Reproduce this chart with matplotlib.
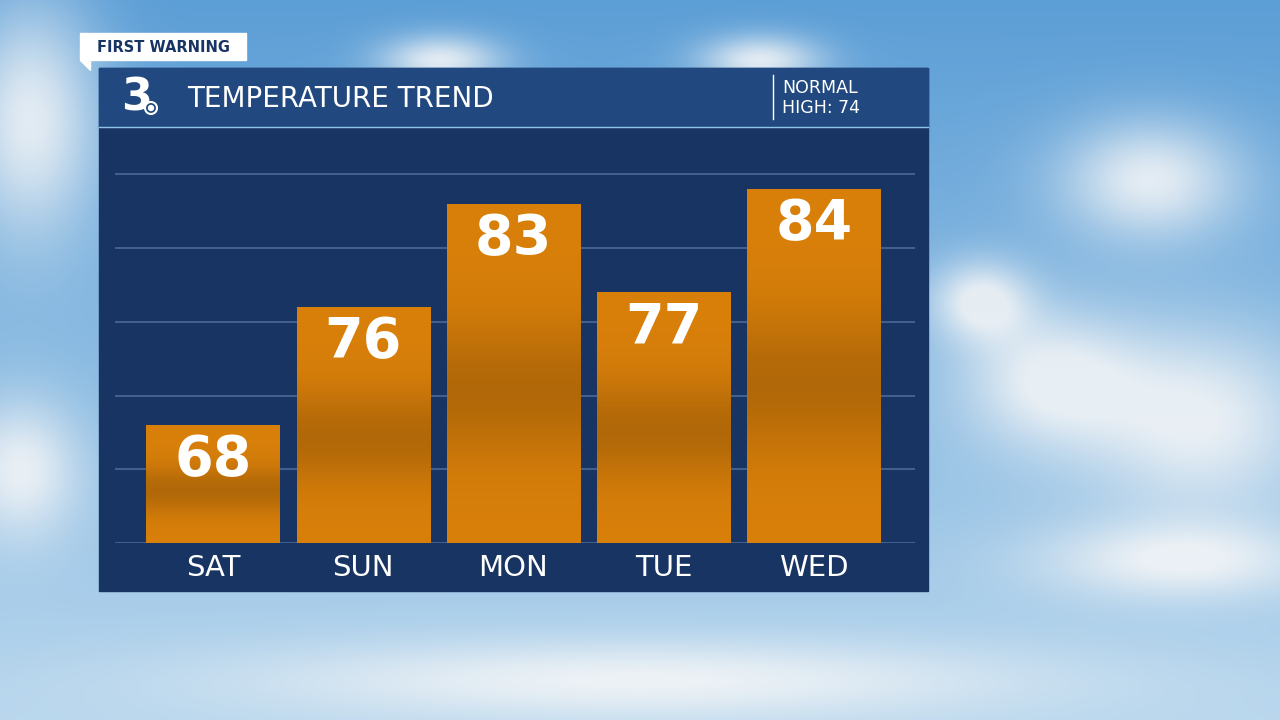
import numpy as np
import matplotlib
matplotlib.use('Agg')
import matplotlib.pyplot as plt
from matplotlib.patches import Rectangle, Circle, Polygon

days = ['SAT', 'SUN', 'MON', 'TUE', 'WED']
highs = [68, 76, 83, 77, 84]
normal_high = 74

W, H = 1280, 720
fig = plt.figure(figsize=(12.8, 7.2), dpi=100)

# fondo: cielo con nubes aproximadas
bg = fig.add_axes([0, 0, 1, 1])
yy, xx = np.mgrid[0:H, 0:W]
t = yy / H
sky = np.zeros((H, W, 3))
top = np.array([0.36, 0.62, 0.84])
bot = np.array([0.72, 0.84, 0.93])
for c in range(3):
    sky[..., c] = top[c] * (1 - t) + bot[c] * t
blobs = [(1150, 180, 90, 60), (1200, 420, 110, 90), (1050, 380, 90, 70),
         (30, 120, 70, 120), (20, 470, 60, 70), (1180, 560, 140, 40),
         (440, 60, 60, 25), (760, 60, 60, 25), (640, 680, 400, 40), (980, 300, 50, 40)]
cl = np.zeros((H, W))
for bx, by, sx, sy in blobs:
    cl += np.exp(-(((xx - bx) / sx) ** 2 + ((yy - by) / sy) ** 2))
cl = np.clip(cl, 0, 1) * 0.85
sky = sky * (1 - cl[..., None]) + cl[..., None] * 0.97
bg.imshow(sky, extent=[0, W, H, 0], aspect='auto')
bg.set_xlim(0, W)
bg.set_ylim(H, 0)
bg.axis('off')

# panel
bg.add_patch(Rectangle((99, 68), 829, 523, color='#173463', zorder=2))
bg.add_patch(Rectangle((99, 68), 829, 59, color='#22497f', zorder=2))
bg.plot([99, 928], [127, 127], color='#8fc3ea', lw=1, zorder=3)
bg.plot([773, 773], [75, 119], color='white', lw=1, zorder=3)
bg.text(187, 99, 'TEMPERATURE TREND', color='white', fontsize=20, va='center', zorder=4)
bg.text(782, 98, 'NORMAL\nHIGH: %d' % normal_high, color='white', fontsize=12.5,
        va='center', linespacing=1.1, zorder=4)
bg.text(136, 98, '3', color='white', fontsize=32, fontweight='bold', ha='center', va='center', zorder=4)
bg.add_patch(Circle((151, 108), 6, fc='#22497f', ec='white', lw=1.5, zorder=5))
bg.add_patch(Circle((151, 108), 2.5, color='white', zorder=6))

# etiqueta FIRST WARNING
bg.add_patch(Rectangle((80, 33), 166, 27, color='white', zorder=4))
bg.add_patch(Polygon([[80, 60], [90, 60], [90, 70]], closed=True, color='white', zorder=4))
bg.text(97, 47, 'FIRST WARNING', color='#173463', fontsize=10.5, fontweight='bold',
        va='center', zorder=5)

# grafico de barras
ax = fig.add_axes([115 / W, 1 - 543 / H, 800 / W, 413 / H])
ax.patch.set_alpha(0)
x = np.arange(len(days))
ax.set_xlim(-0.653, 4.673)
ymin = 60
ax.set_ylim(ymin, ymin + 413 / 14.75)
for g in range(60, 90, 5):
    ax.axhline(g, color='#4b6a95', lw=1.2, zorder=1)

grad = np.linspace(0, 1, 200)
shade = 1 - 0.18 * np.exp(-((grad - 0.55) / 0.2) ** 2)
base = np.array([0.85, 0.50, 0.04])
img = shade[:, None, None] * base[None, None, :]
bars = ax.bar(x, [h - ymin for h in highs], bottom=ymin, width=0.887, color='#d47f0a', zorder=2)
for b, h in zip(bars, highs):
    im = ax.imshow(img, extent=[b.get_x(), b.get_x() + b.get_width(), ymin, h],
                   aspect='auto', zorder=2)
    im.set_clip_path(b)
    ax.text(b.get_x() + b.get_width() / 2, h - 2.4, str(h), color='white', fontsize=40,
            fontweight='bold', ha='center', va='center', zorder=3)

ax.set_xticks(x)
ax.set_xticklabels(days, color='white', fontsize=21)
ax.tick_params(length=0, pad=8)
ax.set_yticks([])
for s in ax.spines.values():
    s.set_visible(False)

fig.savefig('out.png', dpi=100)
